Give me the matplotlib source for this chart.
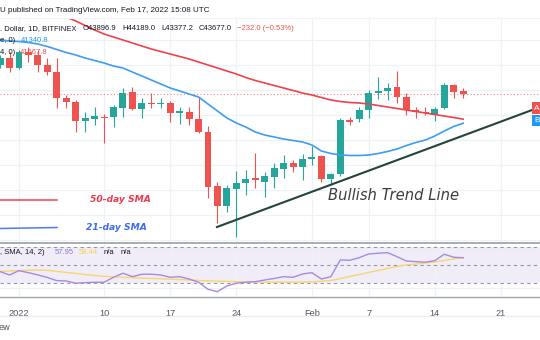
import matplotlib.pyplot as plt
from matplotlib.ticker import MultipleLocator
from matplotlib.patches import Rectangle

# BTC/USD daily candles, day index counted from 1 Jan 2022 (30 Dec = -2, 17 Feb = 47)
days = list(range(-2, 48))
opens = [46000, 46560, 45760, 47040, 46800, 46000, 45440, 43360, 43040, 41520,
         41680, 41840, 41840, 42560, 43840, 42480, 43000, 42920, 42960, 42160,
         42240, 41680, 40640, 36320, 34720, 36080, 36560, 36960, 36640, 37040,
         37680, 38160, 37840, 38480, 38720, 36880, 37280, 41600, 41680, 42400,
         43760, 43920, 44240, 43440, 42400, 42240, 42000, 42560, 44400, 43896.9]
highs = [46800, 47040, 47200, 47440, 47200, 46560, 46560, 43600, 43200, 42240,
         42640, 42080, 42800, 44160, 44240, 43360, 43760, 43360, 43120, 42640,
         42640, 43440, 41120, 36640, 36400, 37520, 37600, 38960, 37440, 38160,
         38800, 38400, 38880, 39520, 38800, 37360, 41760, 41840, 42640, 44000,
         45040, 44560, 45520, 43760, 42640, 42640, 42640, 44560, 44480, 44189.0]
lows = [45760, 45440, 45680, 46240, 45440, 45200, 42560, 42560, 40640, 40640,
        41200, 39760, 41040, 41840, 42400, 41760, 42560, 42560, 41440, 41280,
        41200, 40560, 35360, 33360, 34240, 32240, 35600, 36160, 35440, 36160,
        36960, 37440, 36800, 38000, 36640, 36400, 37120, 41200, 41440, 41760,
        43280, 43200, 42960, 42000, 41760, 42000, 41520, 42480, 43360, 43377.2]
closes = [46560, 45760, 47040, 46800, 46000, 45440, 43360, 43040, 41520, 41760,
          41920, 41760, 42640, 43760, 42480, 42960, 42920, 43000, 42160, 42320,
          41680, 40640, 36240, 34720, 36160, 36560, 36880, 36800, 37120, 37760,
          38160, 37840, 38480, 38640, 36880, 37280, 41600, 41440, 42400, 43760,
          43920, 44160, 43440, 42400, 42240, 42160, 42480, 44400, 43840, 43677.0]

sma50_days = list(range(3, 48))
sma50 = [50480, 50160, 49840, 49520, 49160, 48800, 48480, 48240, 48000, 47760,
         47520, 47280, 47080, 46880, 46680, 46480, 46240, 46000, 45760, 45520,
         45280, 45000, 44760, 44560, 44360, 44160, 43960, 43760, 43600, 43400,
         43200, 43080, 43000, 42960, 42880, 42760, 42640, 42520, 42400, 42280,
         42160, 42040, 41920, 41800, 41667.8]
sma21 = [48000, 47920, 47880, 47800, 47680, 47480, 47240, 47000, 46800, 46560,
         46360, 46160, 45920, 45760, 45440, 45120, 44800, 44480, 44160, 43920,
         43680, 43440, 42880, 42320, 41760, 41360, 41040, 40640, 40400, 40240,
         40080, 39960, 39840, 39600, 39120, 38920, 38800, 38760, 38760, 38800,
         38920, 39080, 39280, 39560, 39800, 40000, 40320, 40720, 41080, 41340.8]

rsi = [42.6, 38.9, 43.7, 41.4, 38.9, 36.1, 32.6, 32.2, 29.7, 30.3,
       30.8, 30.8, 36.3, 40.8, 37.0, 39.7, 39.7, 38.9, 36.3, 37.0,
       34.4, 30.8, 23.0, 20.3, 26.7, 29.7, 30.8, 31.4, 33.3, 35.0,
       37.0, 36.3, 40.0, 41.4, 34.4, 37.0, 55.6, 55.2, 58.1, 62.2,
       63.0, 63.7, 59.2, 54.4, 53.7, 53.0, 54.8, 61.9, 58.6, 57.95]
rsi_sma = [42.8, 43.3, 43.7, 44.1, 44.4, 44.1, 42.8, 41.7, 40.6, 39.4,
           38.3, 37.4, 36.7, 36.3, 35.9, 35.3, 35.0, 34.7, 34.2, 33.8,
           33.3, 32.8, 32.3, 32.0, 31.7, 31.4, 31.3, 31.1, 31.0, 30.9,
           30.9, 31.0, 31.1, 31.3, 31.9, 32.8, 34.8, 37.2, 39.4, 41.7,
           43.9, 46.1, 48.3, 50.0, 51.1, 52.2, 53.3, 55.0, 56.7, 58.44]

trend_days = [20.95, 54.3]
trend_prices = [33040, 42400]

tick_days = [0, 9, 16, 23, 31, 37, 44, 51]
tick_labels = ["2022", "10", "17", "24", "Feb", "7", "14", "21"]

up_col = '#26a69a'
down_col = '#ef5350'
grid_col = '#eef1f6'
txt_col = '#131722'
font = 'Liberation Sans'
fs = 5.5

fig = plt.figure(figsize=(5.4, 3.4), dpi=100)
W, H = 540.0, 340.0
xlim = (-19 / 9.45, 521 / 9.45)

# price pane
ax = fig.add_axes([0, (H - 243) / H, 1, 225 / H])
ax.set_xlim(*xlim)
ax.set_ylim(31760, 49760)
ax.yaxis.set_major_locator(MultipleLocator(2000))
ax.set_xticks(tick_days)
ax.grid(True, color=grid_col, lw=0.9, zorder=0)
ax.tick_params(left=False, bottom=False, labelleft=False, labelbottom=False)
for s in ax.spines.values():
    s.set_visible(False)

for d, o, h, l, c in zip(days, opens, highs, lows, closes):
    col = up_col if c >= o else down_col
    ax.vlines(d, l, h, color=col, lw=0.8, zorder=3)
    ax.bar(d, max(abs(c - o), 70), bottom=min(o, c), width=0.74,
           color=col, lw=0, zorder=4)

ax.plot(sma50_days, sma50, color='#f0424a', lw=1.2, zorder=5)
ax.plot(days, sma21, color='#3e9cf2', lw=1.2, zorder=5)
ax.axhline(closes[-1], color=down_col, lw=0.8, ls=(0, (1, 2)), alpha=0.7, zorder=2)
ax.plot(trend_days, trend_prices, color='#24443a', lw=1.5, zorder=6)

# RSI pane
rx = fig.add_axes([0, (H - 297) / H, 1, 54 / H])
rx.set_xlim(*xlim)
rx.set_ylim(14.4, 74.4)
rx.set_xticks(tick_days)
rx.set_xticklabels(tick_labels, fontsize=6.6, color='#50535e', family=font)
rx.set_yticks([24.4])
rx.grid(True, color=grid_col, lw=0.9, zorder=0)
rx.tick_params(left=False, bottom=False, labelleft=False, pad=5)
for s in rx.spines.values():
    s.set_visible(False)
rx.axhspan(30, 70, color='#7e57c2', alpha=0.1, lw=0, zorder=1)
for lvl in (70, 50, 30):
    rx.axhline(lvl, color='#9598a1', lw=0.8, ls=(0, (3, 3)), zorder=2)
rx.plot(days, rsi_sma, color='#f5d76e', lw=1.0, zorder=3)
rx.plot(days, rsi, color='#a68ae0', lw=1.0, zorder=4)

# overlay in pixel units for texts and frame lines
ov = fig.add_axes([0, 0, 1, 1], zorder=10)
ov.set_xlim(0, W)
ov.set_ylim(H, 0)
ov.axis('off')
ov.patch.set_alpha(0)

ov.plot([0, W], [18, 18], color='#f0f3fa', lw=0.8)
ov.plot([0, W], [243, 243], color='#a3a6af', lw=1.3)
ov.plot([0, W], [297, 297], color='#a3a6af', lw=1.0)
ov.plot([0, W], [316, 316], color='#eceef3', lw=1.0)

ov.text(0, 10, "U published on TradingView.com, Feb 17, 2022 15:08 UTC",
        fontsize=5.8, color=txt_col, family=font, va='center')
ov.text(0, 29, ". Dollar, 1D, BITFINEX", fontsize=fs, color=txt_col, family=font, va='center')
for xp, s in [(83, "O43896.9"), (122, "H44189.0"), (161, "L43377.2"), (199, "C43677.0")]:
    ov.text(xp, 29, s, fontsize=fs, color=txt_col, family=font, va='center')
ov.text(237, 29, "\u2212232.0 (\u22120.53%)", fontsize=fs, color=down_col, family=font, va='center')
ov.text(0, 41, "e, 0)", fontsize=fs, color=txt_col, family=font, va='center')
ov.text(21, 41, "41340.8", fontsize=fs, color='#2196f3', family=font, va='center')
ov.text(0, 53, "4, 0)", fontsize=fs, color=txt_col, family=font, va='center')
ov.text(20, 53, "41667.8", fontsize=fs, color=down_col, family=font, va='center')

ov.text(0, 253, ", SMA, 14, 2)", fontsize=fs, color=txt_col, family=font, va='center')
ov.text(55, 253, "57.95", fontsize=fs, color='#9575cd', family=font, va='center')
ov.text(79, 253, "58.44", fontsize=fs, color='#f2d54e', family=font, va='center')
ov.text(104, 253, "n/a", fontsize=fs, color=txt_col, family=font, va='center')
ov.text(121, 253, "n/a", fontsize=fs, color=txt_col, family=font, va='center')
ov.text(-1, 328, "ew", fontsize=6.6, color='#50535e', family=font, va='center')

# hand-drawn legend for the moving averages
ov.plot([0, 57], [200, 200], color='#f0424a', lw=1.1)
ov.plot([0, 57], [228.5, 227.5], color='#4a7cf0', lw=1.1)
ov.text(120, 200, "50-day SMA", fontsize=6.6, color='#f0394d', style='italic',
        weight='bold', ha='center', va='center')
ov.text(116, 228, "21-day SMA", fontsize=6.6, color='#3d6af0', style='italic',
        weight='bold', ha='center', va='center')
ov.text(394, 196, "Bullish Trend Line", fontsize=10.6, color='#3c3c3c',
        style='italic', ha='center', va='center')

# price-scale tags cut off at the right edge
ov.add_patch(Rectangle((532, 102), 12, 12, color='#ef5350', lw=0))
ov.add_patch(Rectangle((532, 115), 12, 11, color='#2196f3', lw=0))
ov.text(534, 108, "A", fontsize=6.0, color='white', family=font, va='center')
ov.text(534, 120.5, "B", fontsize=6.0, color='white', family=font, va='center')

fig.savefig('out.png', dpi=100)
